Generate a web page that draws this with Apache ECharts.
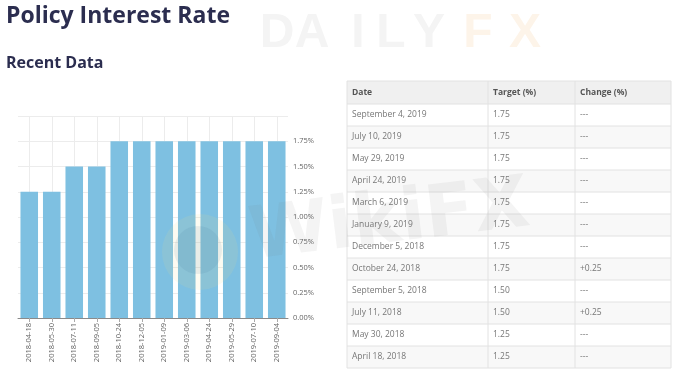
<!DOCTYPE html>
<html><head><meta charset="utf-8">
<script src="https://cdn.jsdelivr.net/npm/echarts@6/dist/echarts.min.js"></script>
<style>html,body{margin:0;padding:0;background:#fff}#c{width:680px;height:379px}</style>
</head><body><div id="c"></div>
<script>
// ---- chart data ----
const categories = ['2018-04-18','2018-05-30','2018-07-11','2018-09-05','2018-10-24','2018-12-05','2019-01-09','2019-03-06','2019-04-24','2019-05-29','2019-07-10','2019-09-04'];
const rates = [1.25,1.25,1.50,1.50,1.75,1.75,1.75,1.75,1.75,1.75,1.75,1.75];
const yMin = 0, yMax = 2, yStep = 0.25;

// ---- table data ----
const tableHeaders = ['Date','Target (%)','Change (%)'];
const tableDates = ['September 4, 2019','July 10, 2019','May 29, 2019','April 24, 2019','March 6, 2019','January 9, 2019','December 5, 2018','October 24, 2018','September 5, 2018','July 11, 2018','May 30, 2018','April 18, 2018'];
const tableTargets = ['1.75','1.75','1.75','1.75','1.75','1.75','1.75','1.75','1.50','1.50','1.25','1.25'];
const tableChanges = ['---','---','---','---','---','---','---','+0.25','---','+0.25','---','---'];

// ---- table layout ----
const T = {left:347, right:671, top:81, headH:23, rowH:22, cols:[347,488,575], pad:5};
const FONT = '"Open Sans", "Noto Sans", sans-serif';

const graphic = [];
// watermark DAILYFX (decoration)
const wmLetters = ['D','A','I','L','Y','F','X'];
const wmCenters = [277,312,358,391,429,478,525];
wmLetters.forEach((ch,i)=>{
  graphic.push({type:'text', z:0, style:{text:ch, x:wmCenters[i], y:34, font:'bold 48px "Liberation Sans"', fill: i<5 ? '#f4f4f4' : '#fdf4e9', align:'center', verticalAlign:'middle'}});
});

// table
const nRows = tableDates.length;
const tBottom = T.top + T.headH + nRows*T.rowH;
graphic.push({type:'rect', z:1, shape:{x:T.left, y:T.top, width:T.right-T.left, height:T.headH}, style:{fill:'#f0f0f0'}});
for (let i=0;i<nRows;i++){
  const y = T.top + T.headH + i*T.rowH;
  graphic.push({type:'rect', z:1, shape:{x:T.left, y:y, width:T.right-T.left, height:T.rowH}, style:{fill: i%2===1 ? '#f8f8f8' : '#ffffff'}});
  graphic.push({type:'line', z:2, shape:{x1:T.left, y1:y, x2:T.right, y2:y}, style:{stroke:'#e2e2e2', lineWidth:1}});
  const cells = [tableDates[i], tableTargets[i], tableChanges[i]];
  cells.forEach((t,j)=>{
    graphic.push({type:'text', z:3, style:{text:t, x:T.cols[j]+T.pad, y:y+T.rowH/2, font:'8.5px '+FONT, fill:'#777', verticalAlign:'middle'}});
  });
}
tableHeaders.forEach((t,j)=>{
  graphic.push({type:'text', z:3, style:{text:t, x:T.cols[j]+T.pad, y:T.top+T.headH/2, font:'bold 8.5px '+FONT, fill:'#555', verticalAlign:'middle'}});
});
graphic.push({type:'rect', z:2, shape:{x:T.left, y:T.top, width:T.right-T.left, height:tBottom-T.top}, style:{fill:'none', stroke:'#e2e2e2', lineWidth:1}});
[T.cols[1], T.cols[2]].forEach(cx=>{
  graphic.push({type:'line', z:2, shape:{x1:cx, y1:T.top, x2:cx, y2:tBottom}, style:{stroke:'#e2e2e2', lineWidth:1}});
});

// WikiFX watermark (faint)
graphic.push({type:'circle', z:10, shape:{cx:200, cy:252, r:38}, style:{fill:'rgba(235,225,140,0.12)'}});
graphic.push({type:'circle', z:10, shape:{cx:198, cy:250, r:24}, style:{fill:'rgba(60,110,150,0.10)'}});
graphic.push({type:'text', z:10, rotation:0.12, x:250, y:240, style:{text:'WikiFX', x:0, y:0, font:'bold 72px "DejaVu Sans"', fill:'rgba(120,120,120,0.08)', verticalAlign:'middle'}});

const chart = echarts.init(document.getElementById('c'), null, {renderer:'canvas'});
chart.setOption({
  animation:false,
  backgroundColor:'#fff',
  title:[
    {text:'Policy Interest Rate', left:6, top:5, padding:0, textStyle:{fontFamily:FONT, fontWeight:'bold', fontSize:23, color:'#2b2d4f'}},
    {text:'Recent Data', left:6, top:55, padding:0, textStyle:{fontFamily:FONT, fontWeight:'bold', fontSize:16, color:'#2b2d4f'}}
  ],
  grid:{left:18, right:392, top:116, bottom:61, containLabel:false},
  xAxis:{
    type:'category', data:categories,
    axisLine:{show:true, lineStyle:{color:'#8a8a8a', width:1}},
    axisTick:{show:true, alignWithLabel:true, length:4, lineStyle:{color:'#aaa'}},
    splitLine:{show:true, alignWithLabel:true, lineStyle:{color:'#ececec'}},
    axisLabel:{rotate:90, fontSize:7.5, color:'#666', fontFamily:FONT, margin:5, interval:0}
  },
  yAxis:{
    type:'value', position:'right', min:yMin, max:yMax, interval:yStep,
    axisLine:{show:false}, axisTick:{show:false},
    splitLine:{show:true, lineStyle:{color:'#ececec'}},
    axisLabel:{showMaxLabel:false, fontSize:7.5, color:'#666', fontFamily:FONT, margin:5, formatter:v=>v.toFixed(2)+'%'}
  },
  series:[{type:'bar', data:rates, barCategoryGap:'22%', itemStyle:{color:'#7ec0e1'}}],
  graphic:graphic
});
</script></body></html>
